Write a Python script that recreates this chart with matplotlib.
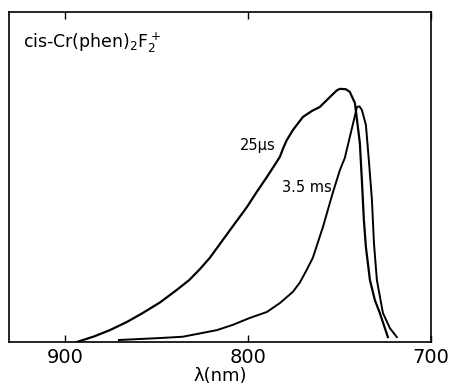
import numpy as np
import matplotlib.pyplot as plt

# emission spectra of cis-Cr(phen)2F2+ at two delay times
wl_25us = [893.4, 884, 875.4, 866, 857.4, 848, 838.8, 832, 826.2, 820.8, 813.7, 807, 800.5,
           795, 789.6, 785.5, 782.5, 780.5, 778.7, 775.4, 769.9, 765, 760.7, 755.2, 751.5,
           749.7, 746.5, 744.3, 741.5, 738.8, 737.7, 736.6, 735.5, 733.3, 730.6, 727.9, 723.5]
int_25us = [0.0, 0.017, 0.036, 0.061, 0.088, 0.12, 0.158, 0.188, 0.221, 0.255, 0.309, 0.36, 0.409,
            0.456, 0.5, 0.535, 0.561, 0.59, 0.612, 0.642, 0.682, 0.7, 0.712, 0.742, 0.762,
            0.767, 0.766, 0.758, 0.724, 0.603, 0.491, 0.37, 0.288, 0.188, 0.127, 0.088, 0.015]

wl_35ms = [870.5, 848.1, 835.5, 816.9, 808.2, 798.9, 789.6, 782.5, 775.4, 771.6, 767.9,
           764.5, 759.0, 753.6, 749.7, 747.0, 744.3, 741.5, 740.4, 739.0, 737.7, 735.5,
           733.9, 732.2, 731.1, 729.5, 726.2, 722.4, 718.6]
int_35ms = [0.006, 0.012, 0.016, 0.036, 0.052, 0.073, 0.091, 0.118, 0.152, 0.18, 0.218,
            0.255, 0.348, 0.452, 0.521, 0.558, 0.621, 0.685, 0.712, 0.714, 0.703, 0.658,
            0.552, 0.43, 0.3, 0.188, 0.088, 0.042, 0.015]

xticks = [900, 800, 700]

fig = plt.figure(figsize=(4.54, 3.86), dpi=100)
ax = fig.add_axes([0.02, 0.114, 0.929, 0.855])

ax.plot(wl_25us, int_25us, color='black', lw=1.6)
ax.plot(wl_35ms, int_35ms, color='black', lw=1.4)

ax.set_xlim(930.5, 700)
ax.set_ylim(0, 1)
ax.set_xticks(xticks)
ax.set_xticklabels([str(t) for t in xticks], fontsize=14)
ax.set_yticks([])
ax.tick_params(axis='x', direction='in', top=True, length=5, width=1, pad=4)
for s in ax.spines.values():
    s.set_linewidth(1.2)

ax.set_xlabel('λ(nm)', fontsize=13, labelpad=0)

ax.text(0.033, 0.905, r'cis-Cr(phen)$_2$F$_2^+$', transform=ax.transAxes,
        fontsize=12.5, va='center', ha='left')
ax.text(785, 0.594, '25µs', fontsize=10.5, ha='right', va='center')
ax.text(754, 0.467, '3.5 ms', fontsize=10.5, ha='right', va='center')

fig.savefig('out.png', dpi=100)
